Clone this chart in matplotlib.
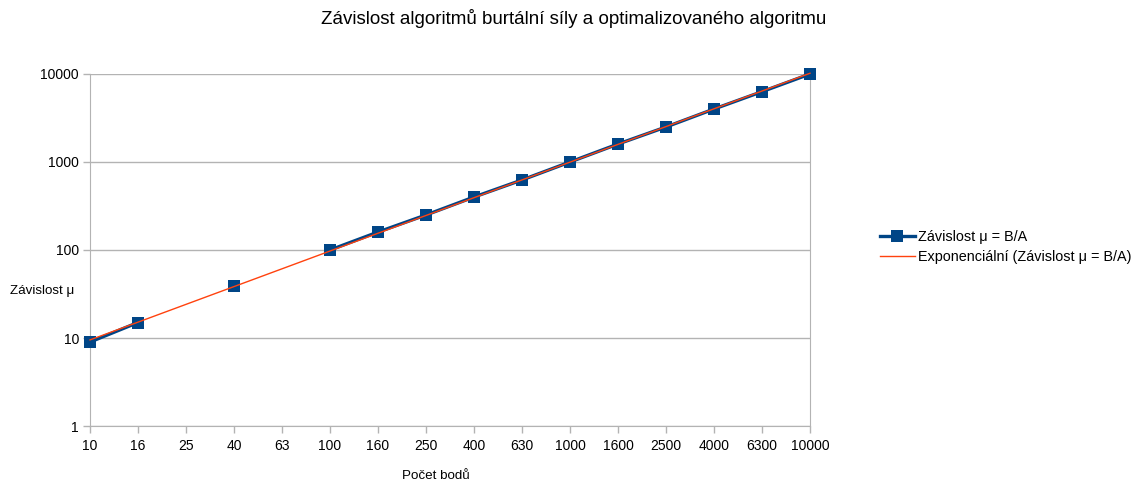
import numpy as np
import matplotlib
matplotlib.use("Agg")
import matplotlib.pyplot as plt
from matplotlib.ticker import FixedLocator, NullLocator

plt.rcParams['font.family'] = ['Liberation Sans', 'DejaVu Sans']

categories = ["10", "16", "25", "40", "63", "100", "160", "250", "400", "630",
              "1000", "1600", "2500", "4000", "6300", "10000"]
values = [9, 15, np.nan, 39, np.nan, 100, 160, 250, 400, 625,
          1000, 1600, 2500, 4000, 6300, 10000]
y_ticks = [1, 10, 100, 1000, 10000]

title = "Závislost algoritmů burtální síly a optimalizovaného algoritmu"
series_label = "Závislost μ = B/A"
trend_label = "Exponenciální (Závislost μ = B/A)"
xlabel = "Počet bodů"
ylabel = "Závislost μ"

blue = "#004586"
orange = "#ff420e"

fig = plt.figure(figsize=(11.38, 4.84), dpi=100)
W, H = 1138, 484
ax = fig.add_axes([90 / W, 1 - 426 / H, 720 / W, 352 / H])

x = np.arange(len(categories))
vals = np.array(values, dtype=float)

# exponential trend (regression on category index, as the spreadsheet does)
mask = ~np.isnan(vals)
idx1 = x + 1
b, a = np.polyfit(idx1[mask], np.log(vals[mask]), 1)
trend = np.exp(a + b * idx1)

ax.plot(x, vals, color=blue, lw=2.4, marker='s', markersize=8,
        markeredgewidth=0, label=series_label, zorder=3, clip_on=False)
ax.plot(x, trend, color=orange, lw=1.0, label=trend_label, zorder=4,
        clip_on=False)

ax.set_yscale('log')
ax.set_ylim(1, 10000)
ax.set_xlim(0, len(categories) - 1)
ax.yaxis.set_major_locator(FixedLocator(y_ticks))
ax.yaxis.set_minor_locator(NullLocator())
ax.set_yticklabels([str(v) for v in y_ticks])
ax.set_xticks(x)
ax.set_xticklabels(categories)

ax.grid(axis='y', color='#b3b3b3', lw=1)
ax.set_axisbelow(True)
ax.spines['top'].set_visible(False)
for side in ['right', 'left', 'bottom']:
    ax.spines[side].set_color('#b3b3b3')
ax.tick_params(axis='both', colors='#b3b3b3', labelcolor='black',
               labelsize=10, length=5, width=1)
ax.tick_params(axis='x', pad=4)
ax.tick_params(axis='y', pad=3)

fig.text(574 / W, 1 - 19 / H, title, ha='center', va='center', fontsize=13.5)
fig.text(436 / W, 1 - 476 / H, xlabel, ha='center', va='center', fontsize=9.6)
fig.text(10 / W, 1 - 291 / H, ylabel, ha='left', va='center', fontsize=9.6)

fig.legend(loc='center left', bbox_to_anchor=(880 / W, 1 - 247 / H),
           frameon=False, fontsize=10.4, handlelength=2.4,
           handletextpad=0.2, labelspacing=0.45, borderaxespad=0,
           borderpad=0)

fig.savefig("out.png", dpi=100)
